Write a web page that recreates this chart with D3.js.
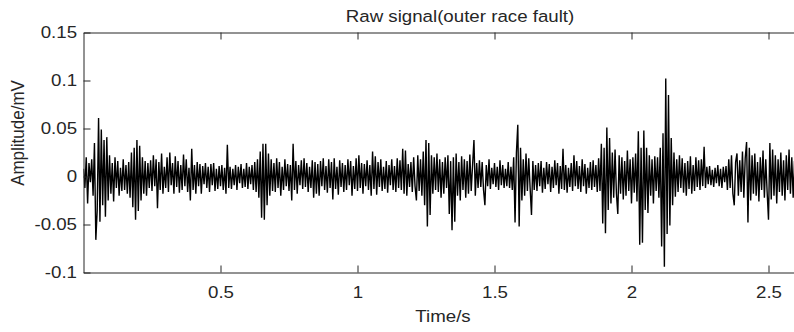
<!DOCTYPE html>
<html>
<head>
<meta charset="utf-8">
<script src="https://d3js.org/d3.v7.min.js"></script>
<style>
body { margin: 0; background: #fff; }
text { font-family: "Liberation Sans", Arial, Helvetica, sans-serif; fill: #262626; }
</style>
</head>
<body>
<svg id="chart" width="794" height="332"></svg>
<script>
// sampling step of the trace, in seconds
var dt = 0.005;

// trace samples, in units of 0.001 mV (one every dt)
var amp = [
  8,-12,20,-28,14,-6,18,-20,35,-66,
  -35,61,-47,49,-30,38,-42,41,-25,22,
  -18,14,-26,20,-12,16,-20,9,-15,18,
  -14,12,-18,15,-22,25,-32,30,-45,38,
  -36,32,-25,20,-18,16,-20,14,-12,17,
  -15,22,-10,18,-33,15,-14,24,-18,10,
  -12,20,-16,25,-9,14,-18,21,-11,16,
  -17,12,-14,23,-10,18,-16,9,-25,29,
  -14,12,-18,15,-10,13,-18,11,-8,14,
  -12,10,-16,13,-9,14,-15,8,-13,11,
  -10,12,-14,9,-18,33,-12,10,-13,8,
  -9,12,-14,10,-7,13,-12,8,-11,14,
  -13,10,-8,12,-14,15,-16,18,-22,26,
  -43,34,-45,34,-30,24,-20,18,-15,14,
  -16,19,-12,15,-20,10,-14,18,-10,13,
  -15,12,-25,34,-14,16,-18,12,-9,17,
  -13,19,-11,14,-16,10,-12,17,-22,15,
  -18,13,-20,16,-10,19,-14,11,-17,18,
  -12,15,-24,19,-13,10,-19,17,-11,14,
  -16,12,-14,18,-9,16,-20,11,-13,19,
  -15,22,-12,14,-18,13,-10,17,-14,12,
  -20,26,-13,21,-19,15,-11,18,-15,10,
  -13,16,-17,12,-9,18,-14,11,-16,19,
  -12,17,-14,29,-18,27,-20,13,-11,15,
  -16,20,-10,-25,22,-15,18,-20,26,-30,
  38,-52,35,-40,22,-18,20,-14,24,-16,
  18,-22,15,-18,20,-12,22,-39,16,-56,
  20,-47,24,-20,15,-25,21,-14,18,-22,
  16,-18,23,-15,12,38,-20,14,-12,17,
  -11,15,-14,-30,12,-10,18,-13,9,-8,
  14,-11,10,-14,17,-9,12,-12,8,-10,
  15,-12,10,-14,20,-48,25,54,-52,30,
  -25,18,-20,24,-15,19,-12,-40,16,-14,
  12,-15,14,-10,16,-17,9,-13,15,-8,
  13,-16,10,-12,17,-9,14,-18,11,-13,
  29,-14,12,-17,9,-11,14,-15,22,-10,
  16,-13,11,-16,18,-10,13,-18,9,-12,
  15,-14,17,-11,12,-16,19,-15,34,-49,
  30,-59,51,-35,40,-28,25,-22,28,-18,
  -39,22,-18,20,-24,16,-20,27,-15,18,
  -28,20,-17,24,-26,47,-71,30,-69,48,
  -35,30,-38,22,-20,18,-28,21,-15,20,
  -22,30,-73,45,-94,102,-60,85,-51,40,
  -30,25,-21,18,-16,22,-12,19,-17,14,
  -20,16,-13,21,-18,12,-15,20,-11,17,
  -14,18,-10,31,-12,10,-8,11,-9,7,
  -11,9,-7,12,-10,8,-12,10,-6,11,
  -14,18,-12,22,-18,-30,15,24,-20,17,
  -16,26,-22,19,36,-48,30,-25,22,-18,
  24,-20,15,-26,20,-14,27,-22,18,-16,
  -45,35,-24,28,-20,22,-28,18,-16,25,
  -20,17,-25,22,-14,28,-18,20,-22,16,
  -10
];

var xTicks = [0.5, 1, 1.5, 2, 2.5];
var xTickLabels = ["0.5", "1", "1.5", "2", "2.5"];
var yTicks = [-0.1, -0.05, 0, 0.05, 0.1, 0.15];
var yTickLabels = ["-0.1", "-0.05", "0", "0.05", "0.1", "0.15"];

var svg = d3.select("#chart");
var plotLeft = 83.5, plotTop = 32.5, plotH = 240;
var xMax = 2.62;
var plotW = 274 * xMax;
var stretch = "scale(1.1,1)"; // the source image is a bit wider than tall

var x = d3.scaleLinear().domain([0, xMax]).range([plotLeft, plotLeft + plotW]);
var y = d3.scaleLinear().domain([-0.1, 0.15]).range([plotTop + plotH, plotTop]);

svg.append("defs").append("clipPath").attr("id", "clip")
  .append("rect").attr("x", plotLeft).attr("y", plotTop).attr("width", plotW).attr("height", plotH);

// the signal
var line = d3.line()
  .x(function(d, i) { return x(i * dt); })
  .y(function(d) { return y(d / 1000); });

svg.append("path")
  .datum(amp)
  .attr("clip-path", "url(#clip)")
  .attr("fill", "none")
  .attr("stroke", "#000")
  .attr("stroke-width", 1.4)
  .attr("stroke-linejoin", "miter")
  .attr("d", line);

// axes, ticks pointing inward like matlab
function styleAxis(g) {
  g.attr("color", "#262626").attr("font-size", 17)
    .attr("font-family", "'Liberation Sans', Arial, sans-serif");
  g.selectAll("text").attr("fill", "#262626").attr("transform", stretch);
}

svg.append("g")
  .attr("transform", "translate(0," + (plotTop + plotH) + ")")
  .call(d3.axisBottom(x).tickValues(xTicks)
    .tickFormat(function(d, i) { return xTickLabels[i]; })
    .tickSizeInner(-7).tickSizeOuter(0).tickPadding(13))
  .call(styleAxis);

svg.append("g")
  .attr("transform", "translate(0," + plotTop + ")")
  .call(d3.axisTop(x).tickValues(xTicks).tickFormat("")
    .tickSizeInner(-7).tickSizeOuter(0))
  .call(styleAxis);

svg.append("g")
  .attr("transform", "translate(" + plotLeft + ",0)")
  .call(d3.axisLeft(y).tickValues(yTicks)
    .tickFormat(function(d, i) { return yTickLabels[i]; })
    .tickSizeInner(-7).tickSizeOuter(0).tickPadding(5.9))
  .call(styleAxis);

svg.append("g")
  .attr("transform", "translate(" + (plotLeft + plotW) + ",0)")
  .call(d3.axisRight(y).tickValues(yTicks).tickFormat("")
    .tickSizeInner(-7).tickSizeOuter(0))
  .call(styleAxis);

// titles
svg.append("text")
  .attr("transform", "translate(460,22) " + stretch)
  .attr("text-anchor", "middle")
  .style("font-size", "17px")
  .text("Raw signal(outer race fault)");

svg.append("text")
  .attr("transform", "translate(443,322) " + stretch)
  .attr("text-anchor", "middle")
  .style("font-size", "17px")
  .text("Time/s");

svg.append("text")
  .attr("transform", "translate(24,133) " + stretch + " rotate(-90)")
  .attr("text-anchor", "middle")
  .style("font-size", "17px")
  .text("Amplitude/mV");
</script>
</body>
</html>
